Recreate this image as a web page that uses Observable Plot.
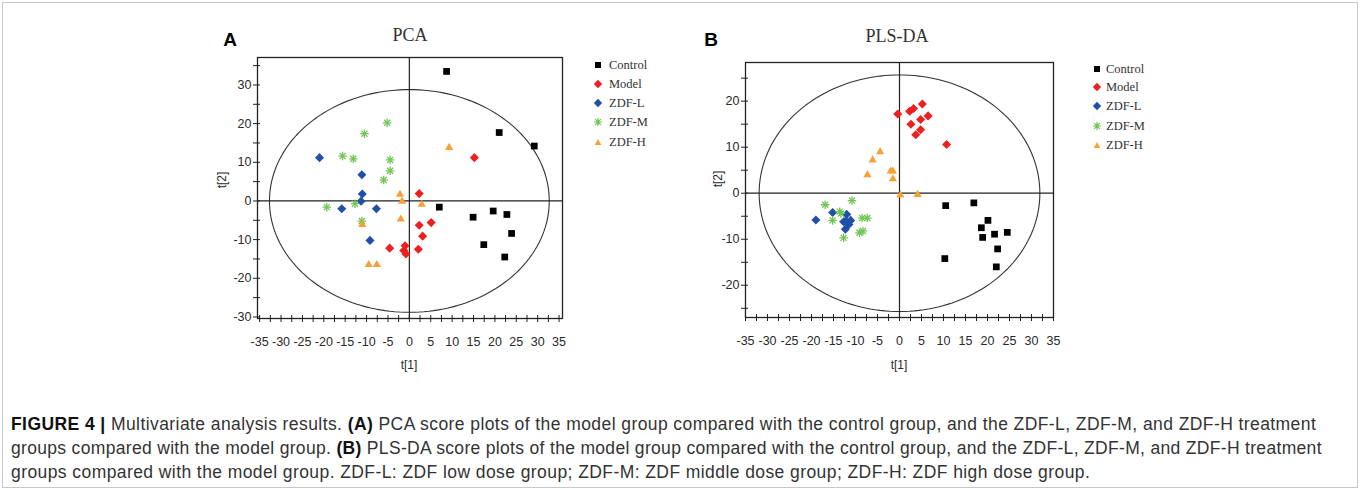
<!DOCTYPE html>
<html>
<head>
<meta charset="utf-8">
<script src="https://cdn.jsdelivr.net/npm/d3@7"></script>
<script src="https://cdn.jsdelivr.net/npm/@observablehq/plot@0.6"></script>
<style>
  html, body { margin: 0; padding: 0; background: #fff; }
  #fig { position: relative; width: 1354px; height: 484px; border: 1px solid #c8c8c8; margin: 2px; overflow: hidden; }
  .abs { position: absolute; white-space: nowrap; }
  .title { font-family: "Liberation Serif", serif; font-size: 18px; color: #333; transform: translate(-50%, -50%); }
  .letter { font-family: "Liberation Sans", Arial, sans-serif; font-weight: bold; font-size: 19px; color: #000; transform: translate(-50%, -50%); }
  .axlab { font-family: "Liberation Sans Narrow", "Liberation Sans", Arial, sans-serif; font-size: 12px; color: #2a2a2a; transform: translate(-50%, -50%); }
  .leg { font-family: "Liberation Serif", serif; font-size: 12.5px; color: #333; transform: translateY(-50%); }
  .cap { font-family: "Liberation Sans Narrow", "Liberation Sans", Arial, sans-serif; font-size: 17.5px; letter-spacing: 0.42px; color: #333; left: 11px; transform: translateY(-50%); }
  .cap b { color: #111; }
</style>
</head>
<body>
<div id="fig"></div>
<script>
// ---------- data ----------
const groups = ["Control", "Model", "ZDF-L", "ZDF-M", "ZDF-H"];
const groupColors = ["#000000", "#ee1f1f", "#1f4fa8", "#72c455", "#f7a135"];

// PCA scores [t1, t2]
const pcaControl = [[8.7,33.5],[21.0,17.7],[29.2,14.2],[7.0,-1.6],[14.9,-4.2],[19.6,-2.6],[22.8,-3.5],[23.9,-8.4],[17.4,-11.3],[22.3,-14.5]];
const pcaModel   = [[15.2,11.2],[2.3,1.9],[5.1,-5.6],[2.3,-6.3],[3.1,-9.1],[-4.6,-12.2],[-1.0,-11.6],[-1.3,-12.8],[-0.8,-13.7],[2.1,-12.5]];
const pcaZdfL    = [[-21.0,11.2],[-11.1,6.8],[-11.0,1.8],[-11.3,-0.1],[-15.8,-2.0],[-7.7,-2.0],[-9.2,-10.2]];
const pcaZdfM    = [[-5.2,20.2],[-10.5,17.4],[-15.6,11.6],[-13.1,10.9],[-4.5,10.6],[-4.5,7.8],[-6.0,5.4],[-19.3,-1.6],[-12.7,-0.7],[-11.1,-5.2]];
const pcaZdfH    = [[9.3,13.8],[-2.2,1.7],[-1.7,-0.1],[2.9,-0.9],[-2.0,-4.7],[-11.0,-6.1],[-9.5,-16.5],[-7.6,-16.5]];

// PLS-DA scores [t1, t2]
const plsControl = [[10.5,-2.7],[16.9,-2.1],[20.1,-5.9],[18.6,-7.5],[21.6,-8.9],[24.5,-8.5],[18.9,-9.6],[22.3,-12.1],[10.3,-14.2],[22.0,-16.0]];
const plsModel   = [[-0.4,17.2],[2.3,17.8],[3.2,18.4],[5.2,19.4],[6.5,16.8],[4.8,16.0],[2.6,15.0],[4.8,13.8],[3.7,12.7],[10.7,10.6]];
const plsZdfL    = [[-19.0,-5.8],[-15.2,-4.2],[-12.0,-4.6],[-12.2,-6.0],[-11.1,-5.9],[-11.5,-6.8],[-12.3,-7.8],[-12.7,-6.2]];
const plsZdfM    = [[-16.9,-2.5],[-10.8,-1.6],[-13.6,-4.0],[-13.3,-4.4],[-15.2,-5.9],[-8.5,-5.4],[-7.3,-5.4],[-8.3,-8.2],[-9.1,-8.6],[-12.7,-9.7]];
const plsZdfH    = [[-4.4,9.0],[-6.1,7.2],[-7.3,4.0],[-2.0,4.8],[-1.5,4.8],[-1.5,3.1],[0.2,-0.4],[4.1,-0.3]];

// Hotelling T2 ellipse semi-axes [t1, t2]
const pcaEllipse = [32.7, 28.8];
const plsEllipse = [31.9, 25.7];

// axis ticks
const xLabelTicks = d3.range(-35, 36, 5);
const xMinorTicks = d3.range(-35, 35.1, 2.5);
const pcaYLabelTicks = [-30, -20, -10, 0, 10, 20, 30];
const pcaYMinorTicks = d3.range(-30, 36, 5);
const plsYLabelTicks = [-20, -10, 0, 10, 20];
const plsYMinorTicks = d3.range(-25, 26, 5);

const fig = document.getElementById("fig");
const OX = -3, OY = -3; // page offset of the figure box

function addDiv(cls, html, x, y) {
  const d = document.createElement("div");
  d.className = "abs " + cls;
  d.innerHTML = html;
  d.style.left = (x + OX) + "px";
  d.style.top = (y + OY) + "px";
  fig.appendChild(d);
  return d;
}

function symbolMarks(pts, gi, r) {
  const color = groupColors[gi];
  const x = d => d[0], y = d => d[1];
  if (gi === 0) return [Plot.dot(pts, {x, y, symbol: "square", r: r * 1.0, fill: color})];
  if (gi === 1 || gi === 2) return [Plot.dot(pts, {x, y, symbol: "square", rotate: 45, r: r * 0.95, fill: color})];
  if (gi === 3) return [
    Plot.dot(pts, {x, y, symbol: "plus", r: r * 0.75, stroke: color, strokeWidth: 1.3}),
    Plot.dot(pts, {x, y, symbol: "times", r: r * 0.75, stroke: color, strokeWidth: 1.3})
  ];
  return [Plot.dot(pts, {x, y, symbol: "triangle", r: r * 0.8, fill: color})];
}

const hyphenFmt = d => String(d);

function panel(opts) {
  const {sets, ellipse, xDomain, yDomain, yLabelTicks, yMinorTicks, left, top, frame} = opts;
  const W = 400, H = 360;
  const ell = d3.range(0, 361, 2).map(a => [ellipse[0] * Math.cos(a * Math.PI / 180), ellipse[1] * Math.sin(a * Math.PI / 180)]);
  const marks = [
    Plot.line(ell, {x: d => d[0], y: d => d[1], stroke: "#333", strokeWidth: 1.1}),
    Plot.ruleX([0], {stroke: "#222", strokeWidth: 1.2}),
    Plot.ruleY([0], {stroke: "#222", strokeWidth: 1.2}),
    Plot.axisX({ticks: xMinorTicks, tickFormat: () => "", tickSize: 4, label: null, stroke: "#222"}),
    Plot.axisX({ticks: xMinorTicks, tickFormat: () => "", tickSize: -3, label: null, stroke: "#222"}),
    Plot.axisX({ticks: xLabelTicks, tickFormat: hyphenFmt, tickSize: 0, tickPadding: 19, label: null, fill: "#2a2a2a", fontSize: 12.5}),
    Plot.axisY({ticks: yMinorTicks, tickFormat: () => "", tickSize: 4, label: null, stroke: "#222"}),
    Plot.axisY({ticks: yMinorTicks, tickFormat: () => "", tickSize: -3, label: null, stroke: "#222"}),
    Plot.axisY({ticks: yLabelTicks, tickFormat: hyphenFmt, tickSize: 0, tickPadding: 6, label: null, fill: "#2a2a2a", fontSize: 12.5}),
    Plot.frame({stroke: "#222", strokeWidth: 1.3})
  ];
  sets.forEach((pts, gi) => marks.push(...symbolMarks(pts, gi, 3.8)));
  const svg = Plot.plot({
    width: W, height: H,
    marginLeft: frame[0] - left, marginTop: frame[1] - top,
    marginRight: left + W - frame[2], marginBottom: top + H - frame[3],
    x: {domain: xDomain, axis: null},
    y: {domain: yDomain, axis: null},
    style: {fontFamily: '"Liberation Sans Narrow", "Liberation Sans", Arial, sans-serif', fontSize: "12px", color: "#333", background: "transparent", overflow: "visible"},
    marks
  });
  svg.style.position = "absolute";
  svg.style.left = (left + OX) + "px";
  svg.style.top = (top + OY) + "px";
  fig.appendChild(svg);
}

panel({
  sets: [pcaControl, pcaModel, pcaZdfL, pcaZdfM, pcaZdfH],
  ellipse: pcaEllipse,
  xDomain: [-35.5, 35.8], yDomain: [-30.4, 37.1],
  yLabelTicks: pcaYLabelTicks, yMinorTicks: pcaYMinorTicks,
  left: 200, top: 20, frame: [257, 57, 562, 318]
});
panel({
  sets: [plsControl, plsModel, plsZdfL, plsZdfM, plsZdfH],
  ellipse: plsEllipse,
  xDomain: [-35, 35], yDomain: [-27.0, 28.4],
  yLabelTicks: plsYLabelTicks, yMinorTicks: plsYMinorTicks,
  left: 690, top: 20, frame: [745, 62, 1053, 317]
});

// titles and panel letters
addDiv("title", "PCA", 410, 35);
addDiv("title", "PLS-DA", 897, 36);
addDiv("letter", "A", 230, 40);
addDiv("letter", "B", 711, 40);
// axis labels
addDiv("axlab", "t[1]", 409, 365);
addDiv("axlab", "t[1]", 899, 365);
const t2a = addDiv("axlab", "t[2]", 222, 180);
t2a.style.transform = "translate(-50%, -50%) rotate(-90deg)";
const t2b = addDiv("axlab", "t[2]", 718, 179);
t2b.style.transform = "translate(-50%, -50%) rotate(-90deg)";

// legends
function legendSymbol(gi) {
  const c = groupColors[gi];
  let s = "";
  if (gi === 0) s = `<rect x="2" y="2" width="6" height="6" fill="${c}"/>`;
  else if (gi === 1 || gi === 2) s = `<path d="M5,0.8L9.2,5L5,9.2L0.8,5Z" fill="${c}"/>`;
  else if (gi === 3) s = `<path d="M5,1V9M1,5H9M2.2,2.2L7.8,7.8M7.8,2.2L2.2,7.8" stroke="${c}" stroke-width="1.2"/>`;
  else s = `<path d="M5,2L8.3,8H1.7Z" fill="${c}"/>`;
  return `<svg width="10" height="10" style="display:block">${s}</svg>`;
}
function legend(mx, tx, ys) {
  groups.forEach((g, i) => {
    addDiv("", legendSymbol(i), mx - 5, ys[i] - 5);
    addDiv("leg", g, tx, ys[i]);
  });
}
legend(598, 609, [65, 83.5, 102.5, 122, 141.5]);
legend(1097, 1106, [68.5, 87, 106, 125.5, 144.5]);

// caption
addDiv("cap", "<b>FIGURE 4 |</b> Multivariate analysis results. <b>(A)</b> PCA score plots of the model group compared with the control group, and the ZDF-L, ZDF-M, and ZDF-H treatment", 11, 424);
const cap2 = addDiv("cap", "groups compared with the model group. <b>(B)</b> PLS-DA score plots of the model group compared with the control group, and the ZDF-L, ZDF-M, and ZDF-H treatment", 11, 448);
cap2.style.letterSpacing = "0.32px";
addDiv("cap", "groups compared with the model group. ZDF-L: ZDF low dose group; ZDF-M: ZDF middle dose group; ZDF-H: ZDF high dose group.", 11, 472);
</script>
</body>
</html>
